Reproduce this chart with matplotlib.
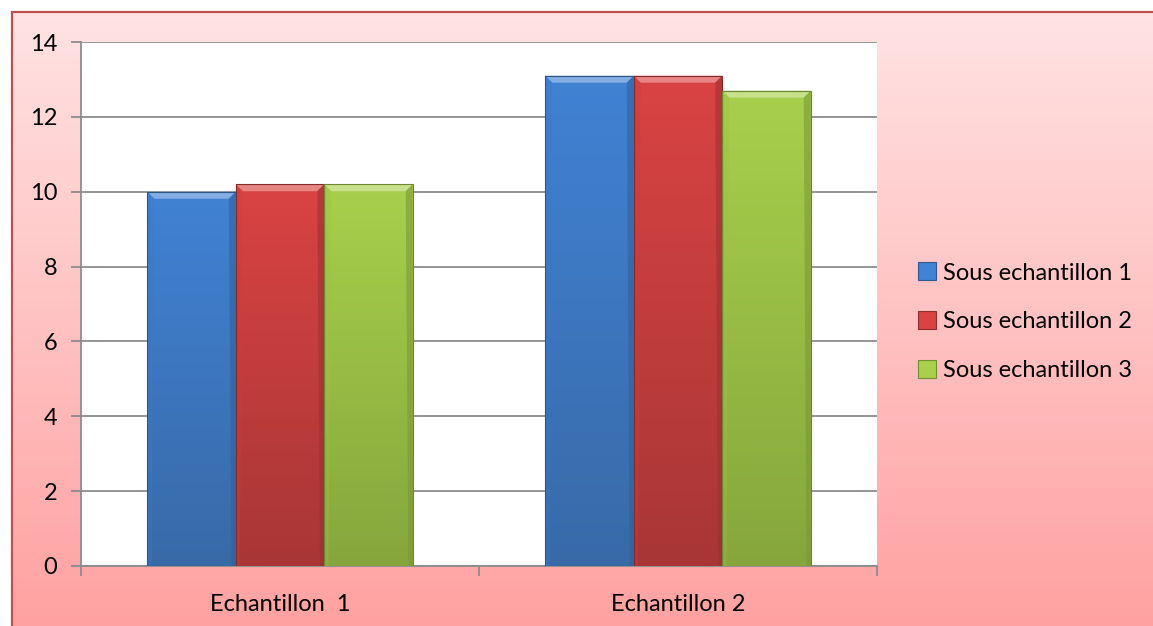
import numpy as np
import matplotlib
matplotlib.use("Agg")
import matplotlib.pyplot as plt
from matplotlib.patches import Polygon, Patch, Rectangle
from matplotlib.colors import to_rgb
from matplotlib.legend_handler import HandlerPatch

categories = ["Echantillon  1", "Echantillon 2"]
series_names = ["Sous echantillon 1", "Sous echantillon 2", "Sous echantillon 3"]
serie1 = [10.0, 13.1]
serie2 = [10.2, 13.1]
serie3 = [10.2, 12.7]
yticks = [0, 2, 4, 6, 8, 10, 12, 14]

values = [serie1, serie2, serie3]
top_cols = ["#4182D4", "#DA4343", "#A8D04C"]
bot_cols = ["#386AA8", "#A83636", "#86A63C"]

plt.rcParams['font.family'] = ['Lato', 'DejaVu Sans']
FS = 17

W, H = 1153, 626
fig = plt.figure(figsize=(W / 100, H / 100), dpi=100)

# Background
bg = fig.add_axes([0, 0, 1, 1])
bg.set_xlim(0, W)
bg.set_ylim(H, 0)
bg.axis("off")
grad = np.linspace(0, 1, 256)[:, None]
c0 = np.array(to_rgb("#FFE3E3"))
c1 = np.array(to_rgb("#FFA0A0"))
img = c0[None, None, :] * (1 - grad[..., None]) + c1[None, None, :] * grad[..., None]
img = np.repeat(img, 2, axis=1)
bg.imshow(img, extent=(12, W + 10, H + 10, 12), aspect="auto", zorder=0)
bg.plot([12, 12, W + 10], [H + 10, 12, 12], color="#C0504D", lw=1.6, zorder=1,
        solid_joinstyle="miter")

L, R, T, B = 81, 877, 42, 566
ax = fig.add_axes([L / W, 1 - B / H, (R - L) / W, (B - T) / H])
ax.set_facecolor("white")
ax.set_xlim(0, 2)
ax.set_ylim(0, 14)
ax.set_yticks(yticks)
ax.set_yticklabels([str(v) for v in yticks])
ax.yaxis.grid(True, color="#8C8C8C", lw=1.3)
ax.set_axisbelow(True)
for s in ["top", "right"]:
    ax.spines[s].set_visible(False)
for s in ["left", "bottom"]:
    ax.spines[s].set_color("#8C8C8C")
    ax.spines[s].set_linewidth(1.3)
ax.tick_params(axis="y", length=7, width=1.3, color="#8C8C8C", labelsize=FS, pad=10)
ax.set_xticks([0, 1, 2])
ax.set_xticklabels([])
ax.tick_params(axis="x", length=7, width=1.3, color="#8C8C8C")
for i, c in enumerate(categories):
    ax.text(i + 0.5, -0.054, c, transform=ax.get_xaxis_transform(), ha="center",
            va="top", fontsize=FS)

bw = 1 / 4.5
bx = 7 / (R - L) * 2
by = 7 / (B - T) * 14
gimg = np.linspace(0, 1, 256)[:, None]
for k, vals in enumerate(values):
    ct = np.array(to_rgb(top_cols[k]))
    cb = np.array(to_rgb(bot_cols[k]))
    for i, v in enumerate(vals):
        x0 = i + 0.75 * bw + k * bw
        x1 = x0 + bw
        rect = Rectangle((x0, 0), bw, v, facecolor="none", edgecolor="none", zorder=3)
        ax.add_patch(rect)
        im_arr = ct[None, None, :] * (1 - gimg[..., None]) + cb[None, None, :] * gimg[..., None]
        im_arr = np.repeat(im_arr, 2, axis=1)
        im = ax.imshow(im_arr, extent=(x0, x1, 0, v), aspect="auto", zorder=3)
        im.set_clip_path(rect)
        light = np.clip(ct + (1 - ct) * 0.35, 0, 1)
        dark_l = ct * 0.93
        ax.add_patch(Polygon([(x0, v), (x1, v), (x1 - bx, v - by), (x0 + bx, v - by)],
                             closed=True, facecolor=light, edgecolor="none", zorder=4))
        ax.add_patch(Polygon([(x1, v), (x1, 0), (x1 - bx * 0.6, 0), (x1 - bx, v - by)],
                             closed=True, facecolor=cb * 0.9, edgecolor="none", alpha=0.55, zorder=4))
        ax.add_patch(Polygon([(x0, v), (x0, 0), (x0 + bx * 0.6, 0), (x0 + bx, v - by)],
                             closed=True, facecolor=dark_l, edgecolor="none", alpha=0.35, zorder=4))
        ax.add_patch(Rectangle((x0, 0), bw, v, facecolor="none", edgecolor=cb * 0.8,
                               lw=0.8, zorder=5))

ax.set_xlim(0, 2)
ax.set_ylim(0, 14)

handles = [Patch(facecolor=top_cols[k], edgecolor=np.array(to_rgb(bot_cols[k])) * 0.85, lw=0.8)
           for k in range(3)]


class SquareHandler(HandlerPatch):
    def create_artists(self, legend, orig_handle, xdescent, ydescent, width, height, fontsize, trans):
        s = 13
        p = Rectangle((width - s, (height - s) / 2), s, s, facecolor=orig_handle.get_facecolor(),
                      edgecolor=orig_handle.get_edgecolor(), lw=0.8, transform=trans)
        return [p]


fig.legend(handles, series_names, loc="center left", bbox_to_anchor=(904 / W, 1 - 322 / H),
           frameon=False, fontsize=FS, handler_map={Patch: SquareHandler()},
           handlelength=0.85, handletextpad=0.3, labelspacing=1.18, borderpad=0)

fig.savefig("out.png", dpi=100)
